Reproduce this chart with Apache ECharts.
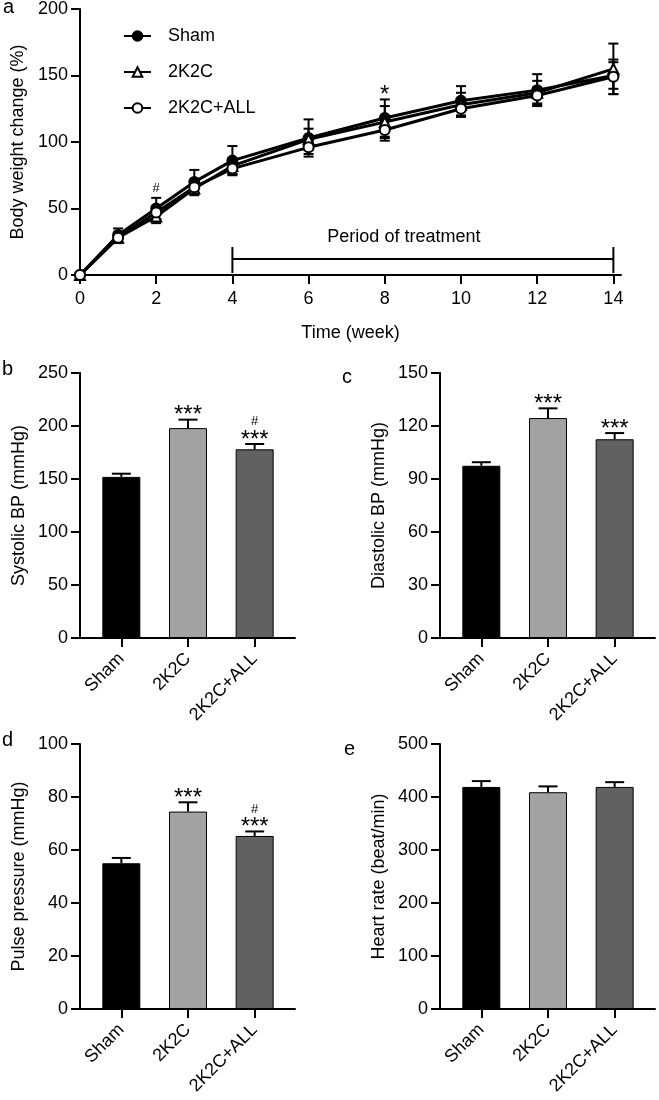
<!DOCTYPE html>
<html lang="en">
<head>
<meta charset="UTF-8">
<title>Body weight and blood pressure</title>
<script src="https://cdn.jsdelivr.net/npm/echarts@6/dist/echarts.min.js"></script>
<style>
    html, body { margin: 0; padding: 0; background: #fff; }
    #main { width: 659px; height: 1100px; }
</style>
</head>
<body>
<div id="main"></div>
<script type="text/javascript">

// panel a - body weight change (%)
var weeks = [0, 1, 2, 3, 4, 6, 8, 10, 12, 14];
var weekTicks = [0, 2, 4, 6, 8, 10, 12, 14];
var shamWeight = [0, 30, 50, 70, 86, 103, 118, 131, 139, 150];
var shamWeightErr = [0, 5, 8, 9, 11, 14, 14, 11, 12, 10];
var k2cWeight = [0, 28, 44, 65, 82, 102, 115, 128, 137, 155];
var k2cWeightErr = [0, 4, 5, 5, 6, 8, 12, 9, 9, 19];
var allWeight = [0, 28, 47, 66, 80, 96, 109, 125, 135, 149];
var allWeightErr = [0, 3, 5, 4, 4, 5, 8, 6, 6, 13];
var weightSigWeek = [2, 8];
var weightSigTop = [58, 132];
var weightSigMark = ['#', '*'];
var treatment = [4, 14];

// panels b-e
var groups = ['Sham', '2K2C', '2K2C+ALL'];
var sbp = [152, 198, 178];
var sbpErr = [3, 8, 5];
var sbpStars = ['', '***', '***'];
var sbpHash = ['', '', '#'];
var dbp = [97.5, 124.5, 112.5];
var dbpErr = [2, 5.5, 3.5];
var dbpStars = ['', '***', '***'];
var dbpHash = ['', '', ''];
var pp = [55, 74.5, 65.3];
var ppErr = [2, 3.5, 1.7];
var ppStars = ['', '***', '***'];
var ppHash = ['', '', '#'];
var hr = [419, 409, 419];
var hrErr = [11, 11, 9];
var hrStars = ['', '', ''];
var hrHash = ['', '', ''];

var FONT = 'Liberation Sans, Arial, Helvetica, sans-serif';
var barColors = ['#000000', '#a2a2a2', '#616161'];

var myChart = echarts.init(document.getElementById('main'));

var axisLine = {show: true, onZero: false, lineStyle: {color: '#000', width: 2}};
var axisTick = {show: true, inside: false, length: 9, lineStyle: {color: '#000', width: 2}};
var axisLabel = {color: '#000', fontSize: 18, fontFamily: FONT, margin: 12};
var nameStyle = {color: '#000', fontSize: 18, fontFamily: FONT};

var grids = [{left: 80, top: 8, width: 541, height: 267, containLabel: false}];
var xAxes = [{
    type: 'value', gridIndex: 0, min: 0, max: 14.2,
    axisLine: axisLine,
    axisTick: {show: true, length: 9, customValues: weekTicks, lineStyle: {color: '#000', width: 2}},
    axisLabel: {color: '#000', fontSize: 18, fontFamily: FONT, margin: 15, customValues: weekTicks},
    splitLine: {show: false},
    name: 'Time (week)', nameLocation: 'middle', nameGap: 49, nameTextStyle: nameStyle
}];
var yAxes = [{
    type: 'value', gridIndex: 0, min: 0, max: 200, interval: 50,
    axisLine: axisLine, axisTick: axisTick, axisLabel: axisLabel,
    splitLine: {show: false},
    name: 'Body weight change (%)', nameLocation: 'middle', nameGap: 52, nameTextStyle: nameStyle
}];
var series = [];

function errLine(params, api) {
    var x = api.value(0), v = api.value(1), e = api.value(2);
    if (!e) return;
    var hi = api.coord([x, v + e]), lo = api.coord([x, v - e]);
    var st = {stroke: '#000', lineWidth: 2};
    return {
        type: 'group', children: [
            {type: 'line', shape: {x1: hi[0], y1: hi[1], x2: lo[0], y2: lo[1]}, style: st},
            {type: 'line', shape: {x1: hi[0] - 5, y1: hi[1], x2: hi[0] + 5, y2: hi[1]}, style: st},
            {type: 'line', shape: {x1: lo[0] - 5, y1: lo[1], x2: lo[0] + 5, y2: lo[1]}, style: st}
        ]
    };
}

function weightSeries(name, vals, errs, symbol, fill) {
    series.push({
        name: name, type: 'line', xAxisIndex: 0, yAxisIndex: 0,
        data: weeks.map(function (w, i) { return [w, vals[i]]; }),
        symbol: symbol, symbolSize: 10,
        lineStyle: {color: '#000', width: 3},
        itemStyle: {color: fill, borderColor: '#000', borderWidth: 2},
        z: 3
    });
    series.push({
        type: 'custom', xAxisIndex: 0, yAxisIndex: 0, clip: false,
        data: weeks.map(function (w, i) { return [w, vals[i], errs[i]]; }),
        renderItem: errLine, z: 2
    });
}
weightSeries('Sham', shamWeight, shamWeightErr, 'circle', '#000');
weightSeries('2K2C', k2cWeight, k2cWeightErr, 'triangle', '#fff');
weightSeries('2K2C+ALL', allWeight, allWeightErr, 'circle', '#fff');

// significance marks, panel a
series.push({
    type: 'custom', xAxisIndex: 0, yAxisIndex: 0, clip: false,
    data: weightSigWeek.map(function (w, i) { return [w, weightSigTop[i]]; }),
    renderItem: function (params, api) {
        var p = api.coord([api.value(0), api.value(1)]);
        var m = weightSigMark[params.dataIndex];
        var big = m === '*';
        return {
            type: 'text',
            style: {
                text: m, x: p[0], y: big ? p[1] + 8 : p[1] - 3,
                align: 'center', verticalAlign: 'bottom',
                fontSize: big ? 24 : 13, fontFamily: FONT, fill: '#000'
            }
        };
    }
});

// period of treatment bracket
series.push({
    type: 'custom', xAxisIndex: 0, yAxisIndex: 0, clip: false,
    data: [[treatment[0], treatment[1], 12]],
    renderItem: function (params, api) {
        var a = api.coord([api.value(0), api.value(2)]);
        var b = api.coord([api.value(1), api.value(2)]);
        var st = {stroke: '#000', lineWidth: 2};
        return {
            type: 'group', children: [
                {type: 'line', shape: {x1: a[0], y1: a[1], x2: b[0], y2: b[1]}, style: st},
                {type: 'line', shape: {x1: a[0], y1: a[1] - 12, x2: a[0], y2: a[1] + 14}, style: st},
                {type: 'line', shape: {x1: b[0], y1: b[1] - 12, x2: b[0], y2: b[1] + 14}, style: st},
                {type: 'text', style: {
                    text: 'Period of treatment', x: (a[0] + b[0]) / 2 - 19, y: a[1] - 13,
                    align: 'center', verticalAlign: 'bottom',
                    fontSize: 18, fontFamily: FONT, fill: '#000'
                }}
            ]
        };
    }
});

function barPanel(left, top, vals, errs, stars, hashes, max, interval, yName) {
    var g = grids.length;
    grids.push({left: left + 8, top: top, width: 200, height: 265, containLabel: false});
    grids.push({left: left, top: top, width: 215, height: 265, containLabel: false});
    var xi = xAxes.length;
    xAxes.push({
        type: 'category', gridIndex: g, data: groups,
        axisLine: {show: false},
        axisTick: {show: true, alignWithLabel: true, length: 9, lineStyle: {color: '#000', width: 2}},
        axisLabel: {color: '#000', fontSize: 18, fontFamily: FONT, margin: 18, rotate: 45, interval: 0},
        splitLine: {show: false}
    });
    xAxes.push({
        type: 'value', gridIndex: g + 1, min: 0, max: 1,
        axisLine: axisLine, axisTick: {show: false}, axisLabel: {show: false}, splitLine: {show: false}
    });
    yAxes.push({
        type: 'value', gridIndex: g, min: 0, max: max, interval: interval, offset: 8,
        axisLine: axisLine, axisTick: axisTick, axisLabel: axisLabel,
        splitLine: {show: false},
        name: yName, nameLocation: 'middle', nameGap: 52, nameTextStyle: nameStyle
    });
    yAxes.push({type: 'value', gridIndex: g + 1, min: 0, max: 1, show: false});

    series.push({
        type: 'bar', xAxisIndex: xi, yAxisIndex: xi, barWidth: 38,
        data: vals.map(function (v, i) {
            return {value: v, itemStyle: {color: barColors[i], borderColor: '#000', borderWidth: 1}};
        }),
        z: 2
    });
    series.push({
        type: 'custom', xAxisIndex: xi, yAxisIndex: xi, clip: false,
        data: vals.map(function (v, i) { return [i, v, errs[i]]; }),
        renderItem: function (params, api) {
            var i = params.dataIndex;
            var base = api.coord([api.value(0), api.value(1)]);
            var hi = api.coord([api.value(0), api.value(1) + api.value(2)]);
            var st = {stroke: '#000', lineWidth: 2};
            var kids = [
                {type: 'line', shape: {x1: base[0], y1: base[1], x2: hi[0], y2: hi[1]}, style: st},
                {type: 'line', shape: {x1: hi[0] - 9.5, y1: hi[1], x2: hi[0] + 9.5, y2: hi[1]}, style: st}
            ];
            if (stars[i]) {
                kids.push({type: 'text', style: {
                    text: stars[i], x: hi[0], y: hi[1] + 8,
                    align: 'center', verticalAlign: 'bottom',
                    fontSize: 24, fontFamily: FONT, fill: '#000'
                }});
            }
            if (hashes[i]) {
                kids.push({type: 'text', style: {
                    text: hashes[i], x: hi[0], y: hi[1] - 16,
                    align: 'center', verticalAlign: 'bottom',
                    fontSize: 13, fontFamily: FONT, fill: '#000'
                }});
            }
            return {type: 'group', children: kids};
        },
        z: 3
    });
}

barPanel(80, 373, sbp, sbpErr, sbpStars, sbpHash, 250, 50, 'Systolic BP (mmHg)');
barPanel(440, 373, dbp, dbpErr, dbpStars, dbpHash, 150, 30, 'Diastolic BP (mmHg)');
barPanel(80, 744, pp, ppErr, ppStars, ppHash, 100, 20, 'Pulse pressure (mmHg)');
barPanel(440, 744, hr, hrErr, hrStars, hrHash, 500, 100, 'Heart rate (beat/min)');

var letters = [['a', 3, 19], ['b', 2, 381], ['c', 342, 389], ['d', 2, 752], ['e', 344, 761]];

var option = {
    animation: false,
    backgroundColor: '#fff',
    legend: {
        data: ['Sham', '2K2C', '2K2C+ALL'],
        orient: 'vertical', left: 118, top: 22,
        itemWidth: 27, itemHeight: 12, itemGap: 18,
        textStyle: {color: '#000', fontSize: 18, fontFamily: FONT, padding: [0, 0, 0, 12]}
    },
    grid: grids,
    xAxis: xAxes,
    yAxis: yAxes,
    series: series,
    graphic: letters.map(function (l) {
        return {type: 'text', left: l[1], top: l[2] - 22, style: {
            text: l[0], fontSize: 20, fontFamily: FONT, fill: '#000'
        }};
    })
};

myChart.setOption(option);

</script>
</body>
</html>
